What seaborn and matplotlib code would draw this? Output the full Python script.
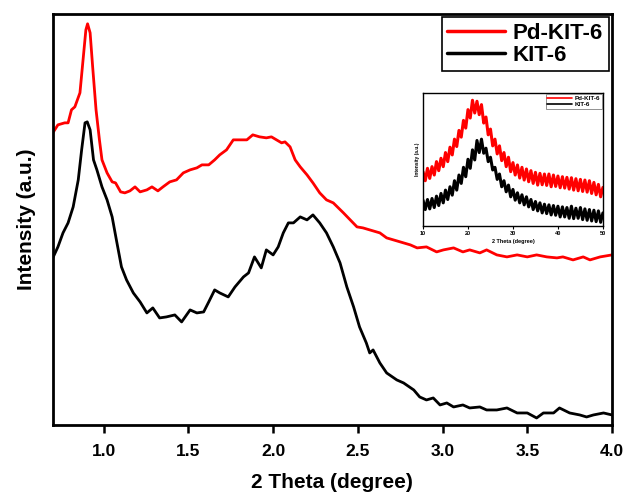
import matplotlib
matplotlib.use("Agg")
import matplotlib.pyplot as plt
import seaborn as sns
import pandas as pd

# main pattern, low angle
pd_theta = [0.70, 0.73, 0.77, 0.79, 0.81, 0.83, 0.86, 0.88, 0.895, 0.905, 0.92, 0.935, 0.955, 0.975,
            0.99, 1.02, 1.05, 1.07, 1.10, 1.125, 1.155, 1.185, 1.215, 1.255, 1.285, 1.32, 1.35, 1.39,
            1.43, 1.47, 1.51, 1.55, 1.58, 1.62, 1.655, 1.685, 1.725, 1.765, 1.805, 1.845, 1.88, 1.92,
            1.96, 1.99, 2.02, 2.05, 2.07, 2.10, 2.13, 2.16, 2.20, 2.235, 2.275, 2.315, 2.355, 2.415,
            2.455, 2.495, 2.53, 2.57, 2.63, 2.67, 2.71, 2.77, 2.81, 2.85, 2.905, 2.965, 3.005, 3.065,
            3.12, 3.16, 3.22, 3.26, 3.32, 3.38, 3.44, 3.50, 3.555, 3.615, 3.675, 3.71, 3.77, 3.83,
            3.87, 3.93, 4.0]
pd_int = [292, 300, 302, 302, 315, 318, 332, 368, 395, 401, 392, 358, 315, 285,
          265, 252, 243, 242, 233, 232, 234, 238, 233, 235, 238, 234, 238, 243,
          245, 252, 255, 257, 260, 260, 265, 270, 275, 285, 285, 285, 290, 288,
          287, 288, 285, 282, 283, 278, 265, 258, 250, 242, 232, 225, 222, 212,
          205, 198, 197, 195, 192, 187, 185, 182, 180, 177, 178, 173, 175, 177,
          173, 175, 172, 175, 170, 168, 170, 168, 170, 168, 167, 168, 165, 168,
          165, 168, 170]

kit_theta = [0.70, 0.73, 0.76, 0.79, 0.82, 0.85, 0.87, 0.89, 0.903, 0.92, 0.94, 0.96, 0.99, 1.02,
             1.05, 1.075, 1.105, 1.135, 1.175, 1.215, 1.255, 1.29, 1.33, 1.37, 1.42, 1.46, 1.51,
             1.55, 1.59, 1.62, 1.655, 1.685, 1.735, 1.775, 1.825, 1.855, 1.89, 1.93, 1.96, 2.00,
             2.03, 2.06, 2.09, 2.12, 2.16, 2.20, 2.235, 2.275, 2.315, 2.355, 2.395, 2.435, 2.475,
             2.51, 2.55, 2.57, 2.59, 2.63, 2.67, 2.73, 2.77, 2.83, 2.865, 2.905, 2.945, 2.985,
             3.025, 3.065, 3.12, 3.16, 3.22, 3.26, 3.32, 3.38, 3.44, 3.50, 3.555, 3.595, 3.655,
             3.69, 3.75, 3.81, 3.85, 3.89, 3.95, 4.0]
kit_int = [167, 178, 192, 202, 218, 245, 275, 302, 303, 295, 265, 255, 238, 225,
           208, 185, 158, 145, 132, 123, 112, 117, 107, 108, 110, 103, 115,
           112, 113, 123, 135, 132, 128, 138, 148, 152, 168, 157, 175, 170,
           178, 192, 202, 202, 208, 205, 210, 202, 192, 178, 162, 138, 118,
           98, 82, 72, 75, 62, 52, 45, 42, 35, 28, 25, 27, 20,
           22, 18, 20, 17, 18, 15, 15, 17, 12, 12, 7, 12, 12,
           17, 12, 10, 8, 10, 12, 10]

# inset, wide angle, sampled every 0.5 degree
inset_theta = [10 + 0.5 * i for i in range(81)]
pd_wide = [175, 148, 185, 155, 190, 165, 205, 178, 215, 190, 232, 205, 248, 225, 272, 250,
           298, 278, 328, 305, 360, 335, 388, 350, 385, 345, 375, 320, 338, 285, 302, 252,
           272, 228, 252, 208, 232, 190, 218, 175, 202, 165, 195, 156, 188, 150, 183, 145,
           178, 140, 173, 135, 170, 136, 168, 134, 168, 130, 165, 131, 162, 127, 160, 126,
           158, 123, 157, 120, 154, 118, 152, 116, 150, 114, 148, 110, 143, 106, 137, 100, 128]
kit_wide = [90, 62, 92, 64, 95, 68, 102, 74, 110, 82, 120, 92, 130, 105, 148, 120,
            165, 140, 188, 160, 212, 185, 240, 210, 268, 232, 272, 230, 245, 205, 218, 180,
            188, 152, 168, 130, 148, 115, 135, 100, 122, 90, 112, 82, 106, 76, 100, 70,
            92, 62, 86, 58, 82, 52, 78, 50, 76, 46, 74, 45, 72, 40, 70, 40,
            68, 36, 72, 35, 66, 36, 68, 32, 64, 30, 62, 28, 60, 26, 58, 24, 52]

sns.set_style("ticks")
plt.rcParams['font.family'] = ['Liberation Sans', 'DejaVu Sans']
plt.rcParams['font.weight'] = 'bold'
plt.rcParams['text.color'] = 'black'
plt.rcParams['axes.labelcolor'] = 'black'
plt.rcParams['axes.edgecolor'] = 'black'
plt.rcParams['xtick.color'] = 'black'
plt.rcParams['ytick.color'] = 'black'

fig = plt.figure(figsize=(6.29, 4.93), dpi=100)
ax = fig.add_axes([0.084, 0.138, 0.889, 0.834])

colors = {"Pd-KIT-6": "#ff0000", "KIT-6": "#000000"}
main = pd.concat([
    pd.DataFrame({"theta": pd_theta, "I": pd_int, "sample": "Pd-KIT-6"}),
    pd.DataFrame({"theta": kit_theta, "I": kit_int, "sample": "KIT-6"}),
])
sns.lineplot(data=main, x="theta", y="I", hue="sample", palette=colors,
             estimator=None, sort=False, lw=2, ax=ax)

ax.set_xlim(0.7, 4.0)
ax.set_ylim(0, 411)
ax.set_xticks([1.0, 1.5, 2.0, 2.5, 3.0, 3.5, 4.0])
ax.set_yticks([])
ax.tick_params(axis='x', direction='out', length=6, width=1.8, labelsize=12.5, pad=8)
for lab in ax.get_xticklabels():
    lab.set_fontweight('bold')
for sp in ax.spines.values():
    sp.set_linewidth(2)
ax.set_xlabel("2 Theta (degree)", fontsize=15, fontweight='bold', labelpad=10)
ax.set_ylabel("Intensity (a.u.)", fontsize=15, fontweight='bold', labelpad=12)

leg = ax.legend(loc='upper right', handlelength=2.6, borderaxespad=0.15,
                fancybox=False, edgecolor='black', framealpha=1,
                prop={'weight': 'bold', 'size': 16}, labelspacing=0.05, handletextpad=0.35,
                borderpad=0.25)
leg.get_frame().set_linewidth(1.2)
for l in leg.get_lines():
    l.set_linewidth(2.5)

# inset
ins = fig.add_axes([0.6725, 0.5416, 0.286, 0.27])
wide = pd.concat([
    pd.DataFrame({"theta": inset_theta, "I": pd_wide, "sample": "Pd-KIT-6"}),
    pd.DataFrame({"theta": inset_theta, "I": kit_wide, "sample": "KIT-6"}),
])
sns.lineplot(data=wide, x="theta", y="I", hue="sample", palette=colors,
             estimator=None, sort=False, lw=2.2, ax=ins)
ins.set_xlim(10, 50)
ins.set_ylim(13, 410)
ins.set_xticks([10, 20, 30, 40, 50])
ins.set_yticks([])
ins.tick_params(axis='x', length=2, width=0.8, labelsize=4, pad=1.5)
for sp in ins.spines.values():
    sp.set_linewidth(1)
ins.set_xlabel("2 Theta (degree)", fontsize=4, fontweight='bold', labelpad=2)
ins.set_ylabel("Intensity (a.u.)", fontsize=3.5, fontweight='bold', labelpad=2)
ileg = ins.legend(loc='upper right', prop={'weight': 'bold', 'size': 4.5}, handlelength=4,
                  borderaxespad=0.2, fancybox=False, edgecolor='gray', framealpha=1,
                  labelspacing=0.1, handletextpad=0.3, borderpad=0.3)
ileg.get_frame().set_linewidth(0.6)
for l in ileg.get_lines():
    l.set_linewidth(1.2)

fig.savefig("out.png", dpi=100)
